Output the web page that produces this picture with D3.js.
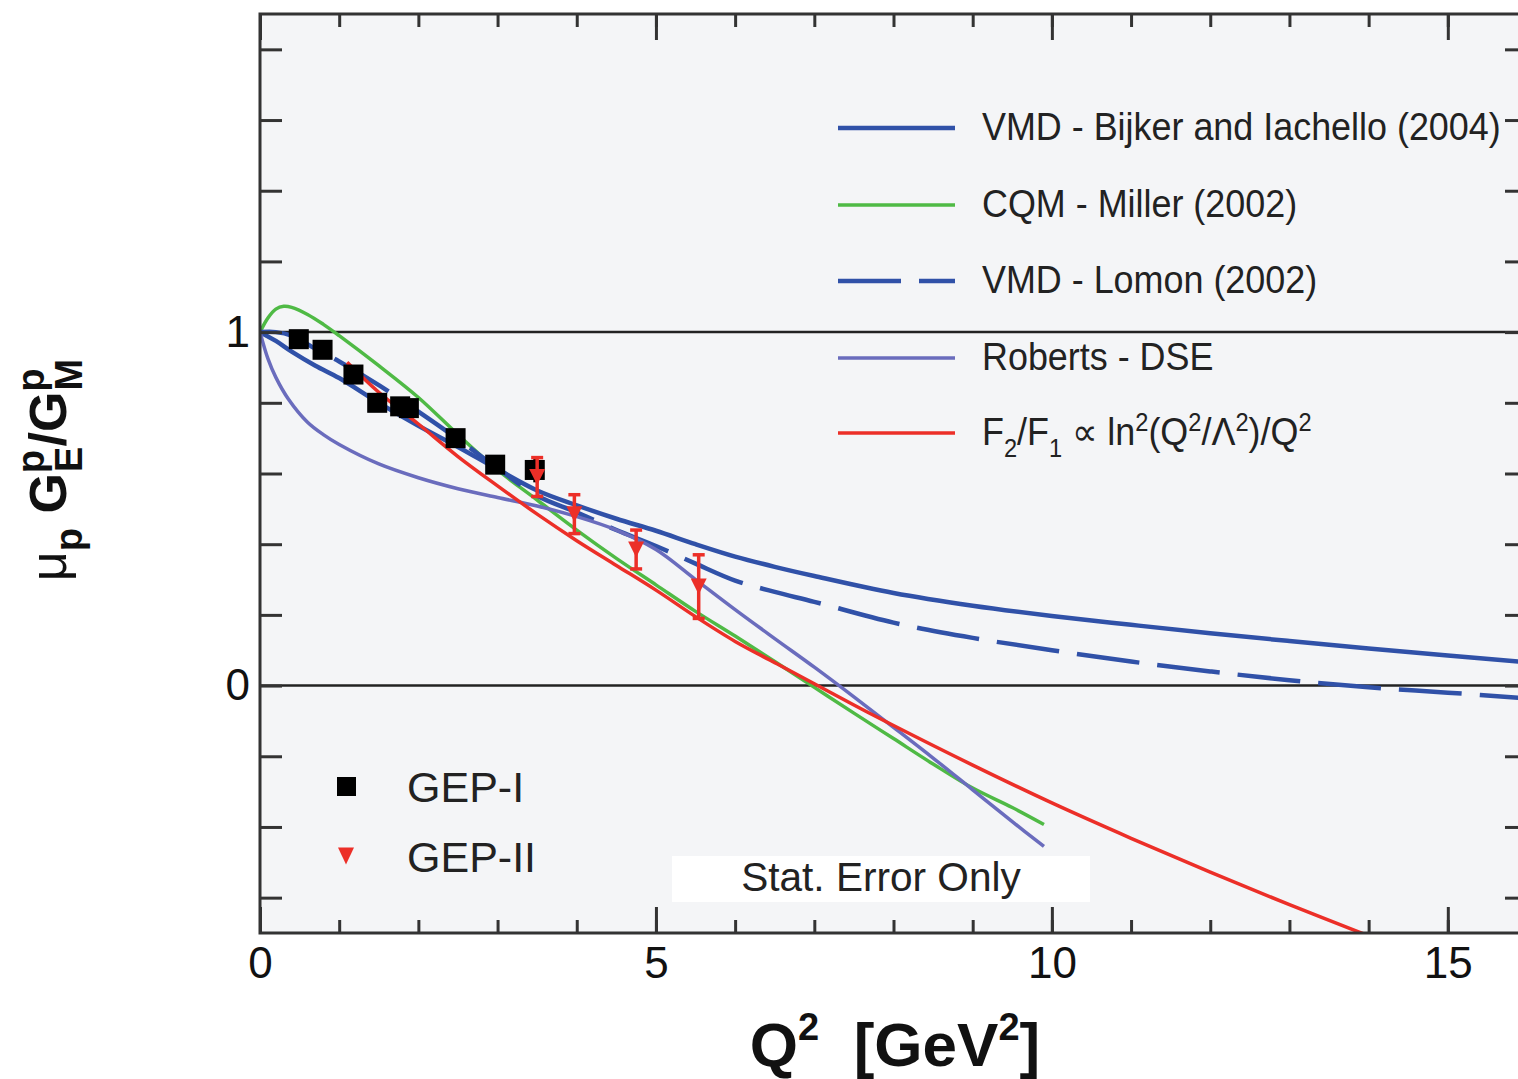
<!DOCTYPE html>
<html><head><meta charset="utf-8">
<script src="https://cdn.jsdelivr.net/npm/d3@7"></script>
<style>body{margin:0;background:#fff}svg{display:block;font-family:"Liberation Sans",Arial,Helvetica,sans-serif}</style>
</head><body><svg id="c" width="1518" height="1079"></svg>
<script>
// ---- data ----
const bijkerQ2    = [0,0.2,0.4,0.7,1.0,1.5,2.0,2.5,3.0,3.5,4.0,4.5,5.0,5.5,6.0,6.5,7.0,8.0,9.0,10,11,12,13,14,15,16];
const bijkerRatio = [1.0,0.975,0.945,0.905,0.87,0.80,0.735,0.675,0.612,0.552,0.51,0.472,0.438,0.40,0.365,0.336,0.31,0.262,0.226,0.197,0.172,0.148,0.126,0.105,0.085,0.066];

const millerQ2    = [0,0.1,0.2,0.3,0.4,0.6,0.8,1.0,1.5,2.0,2.5,3.0,3.5,4.0,4.5,5.0,5.5,6.0,6.5,7.0,7.5,8.0,8.5,9.0,9.5,9.9];
const millerRatio = [1.0,1.04,1.065,1.073,1.07,1.05,1.022,0.99,0.905,0.815,0.71,0.61,0.525,0.44,0.36,0.285,0.21,0.14,0.068,-0.005,-0.078,-0.15,-0.222,-0.29,-0.345,-0.393];

const lomonQ2     = [0,0.2,0.4,0.7,1.0,1.5,2.0,2.5,3.0,3.5,4.0,4.5,5.0,5.5,6.0,6.5,7.0,8.0,9.0,10,11,12,13,14,15,16];
const lomonRatio  = [1.0,1.0,0.99,0.953,0.917,0.85,0.775,0.697,0.615,0.537,0.49,0.44,0.395,0.345,0.297,0.265,0.237,0.178,0.135,0.10,0.068,0.04,0.015,-0.005,-0.02,-0.036];

const robertsQ2    = [0,0.1,0.2,0.36,0.6,0.8,1.0,1.5,2.0,2.5,3.0,3.5,4.0,4.5,5.0,5.5,6.0,6.5,7.0,7.5,8.0,8.5,9.0,9.5,9.9];
const robertsRatio = [1.0,0.925,0.872,0.81,0.745,0.71,0.682,0.627,0.588,0.557,0.532,0.508,0.478,0.44,0.385,0.30,0.215,0.133,0.052,-0.032,-0.118,-0.205,-0.295,-0.385,-0.455];

const f2f1Q2    = [1.1,1.5,2.0,2.5,3.0,3.5,4.0,4.5,5.0,5.5,6.0,6.5,7.0,7.5,8.0,9.0,10,11,12,13,14];
const f2f1Ratio = [0.915,0.83,0.74,0.648,0.565,0.485,0.41,0.34,0.27,0.195,0.125,0.065,0.005,-0.055,-0.113,-0.225,-0.332,-0.432,-0.528,-0.62,-0.708];

const gep1Q2    = [0.49,0.79,1.18,1.48,1.77,1.88,2.47,2.97,3.47];
const gep1Ratio = [0.98,0.95,0.88,0.80,0.79,0.785,0.70,0.625,0.61];
const gep1Err   = [0.02,0.02,0.02,0.02,0.02,0.02,0.02,0.025,0.035];

const gep2Q2    = [3.50,3.97,4.75,5.54];
const gep2Ratio = [0.59,0.485,0.385,0.28];
const gep2Err   = [0.055,0.055,0.055,0.09];

const xMinorTicks = d3.range(0,17,1);
const xMajorTicks = [0,5,10,15];
const yMinorTicks = d3.range(-0.6,1.81,0.2).map(v=>+v.toFixed(1));
const yLabelTicks = [0,1];

const legendLabels = ["VMD - Bijker and Iachello (2004)","CQM - Miller (2002)","VMD - Lomon (2002)","Roberts - DSE","F2/F1"];
const markerLegendLabels = ["GEP-I","GEP-II"];
const noteText = "Stat. Error Only";

// ---- drawing ----
const svg = d3.select("#c");
const W=1518,H=1079;
svg.append("rect").attr("width",W).attr("height",H).attr("fill","#fff");

const x = d3.scaleLinear().domain([0,16]).range([260,1527]);
const y = d3.scaleLinear().domain([-0.7,1.9]).range([933,14]);
const [x0,x1] = x.range(), [y0,y1] = [y.range()[1], y.range()[0]];

svg.append("rect").attr("x",x0).attr("y",y0).attr("width",x1-x0).attr("height",y1-y0).attr("fill","#f4f5f7");
svg.append("clipPath").attr("id","clip").append("rect").attr("x",x0).attr("y",y0).attr("width",x1-x0).attr("height",y1-y0);

// reference lines at 0 and 1
[0,1].forEach(v=>{
  svg.append("line").attr("x1",x0).attr("x2",x1).attr("y1",y(v)).attr("y2",y(v))
    .attr("stroke","#222").attr("stroke-width",2.5);
});

// note box
svg.append("rect").attr("x",672).attr("y",856).attr("width",418).attr("height",46).attr("fill","#fff");
svg.append("text").attr("x",881).attr("y",891).attr("text-anchor","middle").attr("font-size",41).attr("fill","#222")
  .attr("transform","translate(881,0) scale(0.99,1) translate(-881,0)").text(noteText);

// curves
const curves = [
  {xs:bijkerQ2, ys:bijkerRatio, color:"#3051a8", w:4.5, dash:null},
  {xs:millerQ2, ys:millerRatio, color:"#4fba45", w:3.5, dash:null},
  {xs:lomonQ2,  ys:lomonRatio,  color:"#3051a8", w:4.5, dash:"63,18"},
  {xs:robertsQ2,ys:robertsRatio,color:"#6a6cbd", w:3.5, dash:null},
  {xs:f2f1Q2,   ys:f2f1Ratio,   color:"#ec2f28", w:3.5, dash:null}
];
const line = d3.line().x(d=>x(d[0])).y(d=>y(d[1])).curve(d3.curveCatmullRom.alpha(0.5));
const cg = svg.append("g").attr("clip-path","url(#clip)");
curves.forEach(c=>{
  cg.append("path").datum(c.xs.map((v,i)=>[v,c.ys[i]]))
    .attr("d",line).attr("fill","none").attr("stroke",c.color).attr("stroke-width",c.w)
    .attr("stroke-dasharray",c.dash);
});

// GEP-I squares
const sq = 20;
gep1Q2.forEach((q,i)=>{
  cg.append("line").attr("x1",x(q)).attr("x2",x(q)).attr("y1",y(gep1Ratio[i]-gep1Err[i])).attr("y2",y(gep1Ratio[i]+gep1Err[i]))
    .attr("stroke","#000").attr("stroke-width",3);
  cg.append("rect").attr("x",x(q)-sq/2).attr("y",y(gep1Ratio[i])-sq/2).attr("width",sq).attr("height",sq).attr("fill","#000");
});
// GEP-II triangles
const tri = (cx,cy,w,h)=>`M${cx-w/2},${cy-h/2}L${cx+w/2},${cy-h/2}L${cx},${cy+h/2}Z`;
gep2Q2.forEach((q,i)=>{
  const cx=x(q), yt=y(gep2Ratio[i]+gep2Err[i]), yb=y(gep2Ratio[i]-gep2Err[i]);
  cg.append("line").attr("x1",cx).attr("x2",cx).attr("y1",yt).attr("y2",yb).attr("stroke","#ec2f28").attr("stroke-width",3.5);
  cg.append("line").attr("x1",cx-6).attr("x2",cx+6).attr("y1",yt).attr("y2",yt).attr("stroke","#ec2f28").attr("stroke-width",3.5);
  cg.append("line").attr("x1",cx-6).attr("x2",cx+6).attr("y1",yb).attr("y2",yb).attr("stroke","#ec2f28").attr("stroke-width",3.5);
  cg.append("path").attr("d",tri(cx,y(gep2Ratio[i]),16,16)).attr("fill","#ec2f28");
});

// axes
function styleAxis(g){
  g.select(".domain").remove();
  g.selectAll(".tick line").attr("stroke","#333").attr("stroke-width",3);
  g.selectAll(".tick text").attr("fill","#111").attr("font-size",44).attr("font-family","Liberation Sans, Arial, sans-serif");
}
svg.append("g").attr("transform",`translate(0,${y1})`).call(d3.axisBottom(x).tickValues(xMinorTicks).tickSize(-13).tickFormat("")).call(styleAxis);
svg.append("g").attr("transform",`translate(0,${y1})`).call(d3.axisBottom(x).tickValues(xMajorTicks).tickSize(-26).tickPadding(14).tickFormat(d3.format("d"))).call(styleAxis);
svg.append("g").attr("transform",`translate(0,${y0})`).call(d3.axisTop(x).tickValues(xMinorTicks).tickSize(-13).tickFormat("")).call(styleAxis);
svg.append("g").attr("transform",`translate(0,${y0})`).call(d3.axisTop(x).tickValues(xMajorTicks).tickSize(-26).tickFormat("")).call(styleAxis);
svg.append("g").attr("transform",`translate(${x0},0)`).call(d3.axisLeft(y).tickValues(yMinorTicks).tickSize(-22).tickFormat("")).call(styleAxis);
svg.append("g").attr("transform",`translate(${x0},0)`).call(d3.axisLeft(y).tickValues(yLabelTicks).tickSize(0).tickPadding(10).tickFormat(d3.format("d"))).call(styleAxis);
svg.append("g").attr("transform",`translate(${x1},0)`).call(d3.axisRight(y).tickValues(yMinorTicks).tickSize(-22).tickFormat("")).call(styleAxis);

// frame
svg.append("rect").attr("x",x0).attr("y",y0).attr("width",x1-x0).attr("height",y1-y0)
  .attr("fill","none").attr("stroke","#333").attr("stroke-width",3);

// legend (curves)
const legY = [128,205,281,358,433];
curves.forEach((c,i)=>{
  svg.append("line").attr("x1",838).attr("x2",955).attr("y1",legY[i]).attr("y2",legY[i])
    .attr("stroke",c.color).attr("stroke-width",c.w).attr("stroke-dasharray",c.dash);
});
legendLabels.forEach((t,i)=>{
  const tx = svg.append("text").attr("x",0).attr("y",0).attr("font-size",38).attr("fill","#222")
    .attr("transform",`translate(982,${legY[i]+12}) scale(0.945,1)`);
  if(i<4){ tx.text(t); return; }
  const parts = [
    ["F",0],["2",1],["/F",0],["1",1],[" \u221D ln",0],["2",2],["(Q",0],["2",2],["/\u039B",0],["2",2],[")/Q",0],["2",2]
  ];
  let state=0;
  const off = k=> k===1?12:(k===2?-14:0);
  parts.forEach(([s,k])=>{
    const sp = tx.append("tspan").text(s).attr("dy",off(k)-off(state));
    if(k) sp.attr("font-size",25);
    state=k;
  });
});

// marker legend
svg.append("rect").attr("x",337).attr("y",777).attr("width",19).attr("height",19).attr("fill","#000");
svg.append("path").attr("d",tri(346,856,16,17)).attr("fill","#ec2f28");
svg.append("text").attr("x",407).attr("y",802).attr("font-size",43).attr("fill","#222").text(markerLegendLabels[0]);
svg.append("text").attr("x",407).attr("y",872).attr("font-size",43).attr("fill","#222").text(markerLegendLabels[1]);

// x title
const xt = svg.append("text").attr("x",895).attr("y",1066).attr("text-anchor","middle")
  .attr("font-size",62).attr("font-weight","bold").attr("fill","#111");
xt.append("tspan").text("Q");
xt.append("tspan").text("2").attr("font-size",38).attr("dy",-26);
xt.append("tspan").text("\u00A0\u00A0[GeV").attr("dy",26);
xt.append("tspan").text("2").attr("font-size",38).attr("dy",-26);
xt.append("tspan").text("]").attr("dy",26);

// y title (rotated)
const yg = svg.append("g").attr("transform","translate(66,470) rotate(-90)");
const yt = yg.append("text").attr("text-anchor","middle").attr("font-size",52).attr("font-weight","bold").attr("fill","#111");
yt.append("tspan").text("\u03BC").attr("font-weight","normal");
yt.append("tspan").text("p").attr("font-size",38).attr("dy",16);
yt.append("tspan").text("\u00A0G").attr("dy",-16);
yt.append("tspan").text("p").attr("font-size",38).attr("dy",-22);
yt.append("tspan").text("E").attr("font-size",38).attr("dy",38).attr("dx",-22);
yt.append("tspan").text("/G").attr("dy",-16);
yt.append("tspan").text("p").attr("font-size",38).attr("dy",-22);
yt.append("tspan").text("M").attr("font-size",38).attr("dy",38).attr("dx",-22);
</script></body></html>
